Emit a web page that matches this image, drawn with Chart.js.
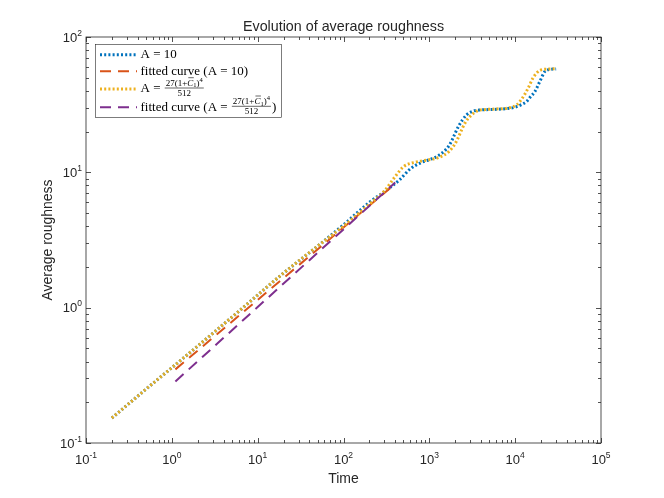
<!DOCTYPE html>
<html>
<head>
<meta charset="utf-8">
<script src="https://cdn.jsdelivr.net/npm/chart.js@4/dist/chart.umd.min.js"></script>
<style>
    html, body { margin: 0; padding: 0; background: #fff; }
    canvas { display: block; }
</style>
</head>
<body>
<canvas id="myChart" width="664" height="498"></canvas>
<script>
// values (log-log)
const time_a10 = [0.2, 0.3, 0.5, 1, 2, 5, 10, 20, 50, 100, 200, 300, 450, 600, 800, 1000, 1300, 1700, 2200, 2700, 3200, 4000, 6000, 8000, 10000, 12000, 13600, 15000, 17000, 19400, 22200, 25000, 30000]
const rough_a10 = [0.153, 0.19, 0.25, 0.36, 0.52, 0.85, 1.24, 1.8, 2.85, 4.1, 6.0, 7.2, 8.8, 10.6, 11.8, 12.4, 13.4, 15.8, 22, 26.5, 28.3, 28.9, 29.2, 29.6, 30.3, 31.8, 33.4, 36, 39.6, 47, 55.7, 57.5, 58]

const time_ac = [0.2, 0.3, 0.5, 1, 2, 5, 10, 20, 50, 100, 200, 300, 400, 500, 650, 800, 1000, 1300, 1700, 2000, 2600, 3000, 3700, 4500, 6000, 8000, 10400, 12000, 14200, 16200, 19400, 24300, 30000]
const rough_ac = [0.153, 0.19, 0.25, 0.36, 0.52, 0.85, 1.24, 1.8, 2.85, 4.0, 5.8, 7.3, 9.3, 11.0, 11.8, 12.1, 12.4, 12.9, 14.3, 16.3, 23.1, 26, 28.6, 29.1, 29.4, 29.8, 31.5, 35, 42, 50, 56.6, 58, 58.3]

const fit_time_a10 = [1.1, 380]
const fit_rough_a10 = [0.35, 8.0]
const fit_time_ac = [1.1, 400]
const fit_rough_ac = [0.285, 8.4]

const x_exponents = [-1, 0, 1, 2, 3, 4, 5]
const y_exponents = [-1, 0, 1, 2]

const title_text = 'Evolution of average roughness'
const x_label = 'Time'
const y_label = 'Average roughness'

const AXIS_COLOR = '#262626'
const SANS = '"Liberation Sans", Arial, sans-serif'
const SERIF = '"Liberation Serif", "Times New Roman", serif'
const DOTTED = [2, 2.2]
const DASHED = [11, 7]

function to_points(xs, ys){
    return xs.map((x, idx) => { return {x: x, y: ys[idx]} })
}

function draw_power(ctx, exp, x, y, align){
    ctx.font = '13px ' + SANS
    let w_base = ctx.measureText('10').width
    ctx.font = '8.5px ' + SANS
    let w_exp = ctx.measureText(exp).width
    let total = w_base + w_exp
    let left = align == 'center' ? x - total / 2 : x - total
    ctx.textAlign = 'left'
    ctx.textBaseline = 'alphabetic'
    ctx.font = '13px ' + SANS
    ctx.fillText('10', left, y)
    ctx.font = '8.5px ' + SANS
    ctx.fillText(exp, left + w_base, y - 6)
}

// 27(1+C1)^4 / 512, C with a bar
function draw_fraction(ctx, x, y_bar){
    const parts = [
        ['27(1+', '9px ' + SERIF, 0],
        ['C', 'italic 9px ' + SERIF, 0],
        ['1', '6.5px ' + SERIF, 1.8],
        [')', '9px ' + SERIF, 0],
        ['4', '6.5px ' + SERIF, -3.8]
    ]
    let width = 0
    parts.forEach((p) => { ctx.font = p[1]; width += ctx.measureText(p[0]).width })
    let w = width + 2
    let cx = x + 1
    let base = y_bar - 2.5
    ctx.textAlign = 'left'
    ctx.textBaseline = 'alphabetic'
    parts.forEach((p) => {
        ctx.font = p[1]
        let pw = ctx.measureText(p[0]).width
        ctx.fillText(p[0], cx, base + p[2])
        if (p[0] == 'C'){
            ctx.lineWidth = 0.6
            ctx.beginPath()
            ctx.moveTo(cx + 1, base - 7.8)
            ctx.lineTo(cx + pw + 0.5, base - 7.8)
            ctx.stroke()
        }
        cx += pw
    })
    ctx.lineWidth = 0.6
    ctx.beginPath()
    ctx.moveTo(x, y_bar)
    ctx.lineTo(x + w, y_bar)
    ctx.stroke()
    ctx.font = '9px ' + SERIF
    ctx.textAlign = 'center'
    ctx.fillText('512', x + w / 2, y_bar + 8)
    return w
}

const legend_items = [
    {color: '#0072BD', dash: DOTTED, width: 3, text: 'A = 10'},
    {color: '#D95319', dash: DASHED, width: 2, text: 'fitted curve (A = 10)'},
    {color: '#EDB120', dash: DOTTED, width: 3, text: 'A = ', frac: true},
    {color: '#7E2F8E', dash: DASHED, width: 2, text: 'fitted curve (A = ', frac: true, close: ')'}
]

const matlab_axes = {
    id: 'matlab_axes',
    afterDraw(chart){
        const ctx = chart.ctx
        const area = chart.chartArea
        const xs = chart.scales.x
        const ys = chart.scales.y
        ctx.save()
        ctx.strokeStyle = AXIS_COLOR
        ctx.fillStyle = AXIS_COLOR
        ctx.lineWidth = 0.8

        // box
        ctx.strokeRect(area.left, area.top, area.right - area.left, area.bottom - area.top)

        // ticks, pointing inward on all sides
        ctx.beginPath()
        for (let k = x_exponents[0]; k <= x_exponents[x_exponents.length - 1]; k++){
            for (let m = 1; m <= 9; m++){
                if (m > 1 && k == x_exponents[x_exponents.length - 1]) break
                let px = Math.round(xs.getPixelForValue(m * Math.pow(10, k))) + 0.5
                let len = m == 1 ? 5 : 3
                ctx.moveTo(px, area.bottom); ctx.lineTo(px, area.bottom - len)
                ctx.moveTo(px, area.top); ctx.lineTo(px, area.top + len)
            }
        }
        for (let k = y_exponents[0]; k <= y_exponents[y_exponents.length - 1]; k++){
            for (let m = 1; m <= 9; m++){
                if (m > 1 && k == y_exponents[y_exponents.length - 1]) break
                let py = Math.round(ys.getPixelForValue(m * Math.pow(10, k))) + 0.5
                let len = m == 1 ? 5 : 3
                ctx.moveTo(area.left, py); ctx.lineTo(area.left + len, py)
                ctx.moveTo(area.right, py); ctx.lineTo(area.right - len, py)
            }
        }
        ctx.stroke()

        // tick labels
        x_exponents.forEach((k) => {
            draw_power(ctx, String(k), xs.getPixelForValue(Math.pow(10, k)), area.bottom + 21, 'center')
        })
        y_exponents.forEach((k) => {
            draw_power(ctx, String(k), area.left - 4, ys.getPixelForValue(Math.pow(10, k)) + 4.5, 'right')
        })

        // title and axis labels
        ctx.textAlign = 'center'
        ctx.textBaseline = 'alphabetic'
        ctx.font = '14.3px ' + SANS
        ctx.fillText(title_text, (area.left + area.right) / 2, area.top - 6)
        ctx.font = '14px ' + SANS
        ctx.fillText(x_label, (area.left + area.right) / 2, area.bottom + 39.5)
        ctx.save()
        ctx.translate(51.5, (area.top + area.bottom) / 2)
        ctx.rotate(-Math.PI / 2)
        ctx.fillText(y_label, 0, 0)
        ctx.restore()

        // legend
        const box = {left: 95.5, top: 44.5, right: 281.5, bottom: 117.5}
        const rows = [54.7, 71.3, 89, 107.3]
        ctx.fillStyle = '#fff'
        ctx.fillRect(box.left, box.top, box.right - box.left, box.bottom - box.top)
        ctx.strokeStyle = AXIS_COLOR
        ctx.lineWidth = 0.6
        ctx.strokeRect(box.left, box.top, box.right - box.left, box.bottom - box.top)
        legend_items.forEach((item, idx) => {
            let y = rows[idx]
            ctx.save()
            ctx.strokeStyle = item.color
            ctx.lineWidth = item.width
            ctx.setLineDash(item.dash)
            ctx.beginPath()
            ctx.moveTo(100, y)
            ctx.lineTo(137, y)
            ctx.stroke()
            ctx.restore()

            ctx.fillStyle = '#000'
            ctx.strokeStyle = '#000'
            ctx.font = '13px ' + SERIF
            ctx.textAlign = 'left'
            ctx.textBaseline = 'middle'
            ctx.fillText(item.text, 140.5, y)
            if (item.frac){
                let tw = ctx.measureText(item.text).width
                let fx = 140.5 + tw + 1
                let fw = draw_fraction(ctx, fx, y - 1)
                if (item.close){
                    ctx.font = '13px ' + SERIF
                    ctx.textAlign = 'left'
                    ctx.textBaseline = 'middle'
                    ctx.fillText(item.close, fx + fw + 1, y)
                }
            }
        })
        ctx.restore()
    }
}

function make_dataset(xs, ys, color, dash, width, order){
    return {
        data: to_points(xs, ys),
        borderColor: color,
        backgroundColor: color,
        borderDash: dash,
        borderWidth: width,
        pointRadius: 0,
        fill: false,
        cubicInterpolationMode: 'monotone',
        order: order
    }
}

let ctx = document.getElementById('myChart')
let config = {
    type: 'line',
    data: {
        datasets: [
            make_dataset(time_a10, rough_a10, '#0072BD', DOTTED, 3, 4),
            make_dataset(fit_time_a10, fit_rough_a10, '#D95319', DASHED, 2, 3),
            make_dataset(time_ac, rough_ac, '#EDB120', DOTTED, 3, 2),
            make_dataset(fit_time_ac, fit_rough_ac, '#7E2F8E', DASHED, 2, 1)
        ]
    },
    options: {
        responsive: false,
        animation: false,
        devicePixelRatio: 1,
        layout: {padding: {left: 86, right: 63, top: 37, bottom: 55}},
        scales: {
            x: {type: 'logarithmic', min: 0.1, max: 100000, display: false},
            y: {type: 'logarithmic', min: 0.1, max: 100, display: false}
        },
        plugins: {
            legend: {display: false},
            tooltip: {enabled: false}
        }
    },
    plugins: [matlab_axes]
}
let mychart = new Chart(ctx, config)
</script>
</body>
</html>
